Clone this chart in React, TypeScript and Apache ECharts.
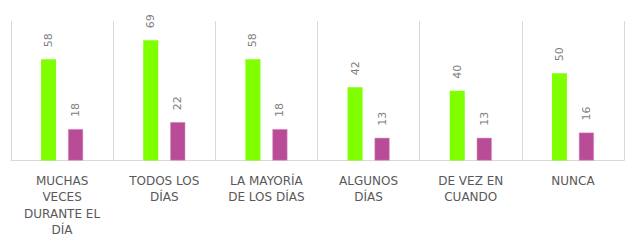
import React, { useEffect, useRef } from "react";
import * as echarts from "echarts";

const categories = [
  "MUCHAS\nVECES\nDURANTE EL\nDÍA",
  "TODOS LOS\nDÍAS",
  "LA MAYORÍA\nDE LOS DÍAS",
  "ALGUNOS\nDÍAS",
  "DE VEZ EN\nCUANDO",
  "NUNCA",
];
const seriesA = [58, 69, 58, 42, 40, 50];
const seriesB = [18, 22, 18, 13, 13, 16];

export default function App() {
  const ref = useRef<HTMLDivElement>(null);
  useEffect(() => {
    if (!ref.current) return;
    const chart = echarts.init(ref.current, undefined, { renderer: "svg" });
    const label = {
      show: true,
      position: "top" as const,
      rotate: 90,
      align: "left" as const,
      verticalAlign: "middle" as const,
      distance: 12,
      color: "#808080",
      fontSize: 11,
      fontFamily: "DejaVu Sans",
    };
    chart.setOption({
      animation: false,
      grid: { left: 11, right: 8, top: 21, bottom: 86.5, containLabel: false },
      xAxis: {
        type: "category",
        data: categories,
        boundaryGap: true,
        axisLine: { show: true, lineStyle: { color: "#d9d9d9", width: 1 } },
        axisTick: { show: false },
        splitLine: { show: true, lineStyle: { color: "#d9d9d9", width: 1 } },
        axisLabel: {
          interval: 0,
          color: "#595959",
          fontSize: 12,
          fontFamily: "DejaVu Sans",
          lineHeight: 16.5,
          margin: 12,
        },
      },
      yAxis: {
        type: "value",
        min: 0,
        max: 80,
        show: false,
        splitLine: { show: false },
      },
      series: [
        {
          type: "bar",
          data: seriesA,
          barWidth: 15,
          barGap: "80%",
          itemStyle: { color: "#80ff00" },
          label,
        },
        {
          type: "bar",
          data: seriesB,
          barWidth: 15,
          itemStyle: { color: "#b84c96", borderColor: "#d88cc0", borderWidth: 0.5 },
          label,
        },
      ],
    });
    return () => chart.dispose();
  }, []);
  return <div ref={ref} style={{ width: 632, height: 247, position: "absolute", left: 0, top: 0 }} />;
}
